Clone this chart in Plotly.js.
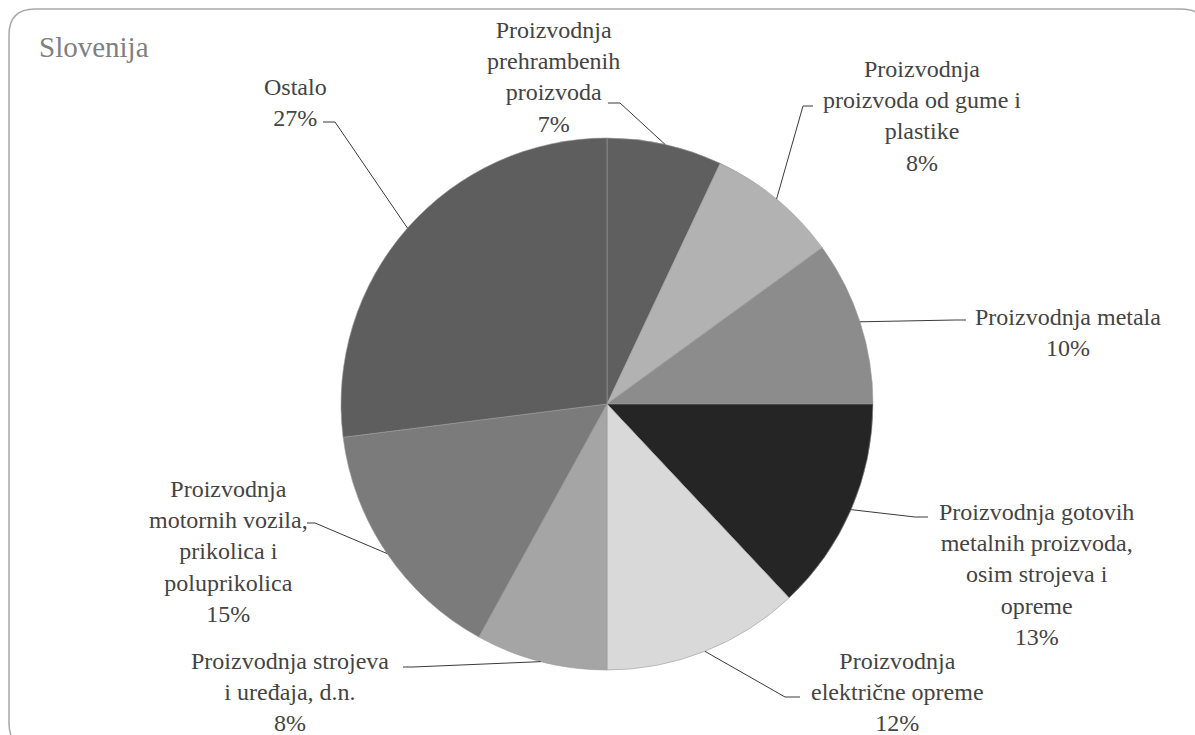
<!DOCTYPE html>
<html>
<head>
<meta charset="utf-8">
<script src="https://cdn.plot.ly/plotly-3.0.1.min.js"></script>
</head>
<body style="margin:0; background:#ffffff; overflow:hidden">
<div id="chart"></div>
<script>
// ---- data ----
const categories = [
  "Proizvodnja prehrambenih proizvoda",
  "Proizvodnja proizvoda od gume i plastike",
  "Proizvodnja metala",
  "Proizvodnja gotovih metalnih proizvoda, osim strojeva i opreme",
  "Proizvodnja električne opreme",
  "Proizvodnja strojeva i uređaja, d.n.",
  "Proizvodnja motornih vozila, prikolica i poluprikolica",
  "Ostalo"
];
const values = [7, 8, 10, 13, 12, 8, 15, 27];
const labelLines = [
  "Proizvodnja<br>prehrambenih<br>proizvoda",
  "Proizvodnja<br>proizvoda od gume i<br>plastike",
  "Proizvodnja metala",
  "Proizvodnja gotovih<br>metalnih proizvoda,<br>osim strojeva i<br>opreme",
  "Proizvodnja<br>električne opreme",
  "Proizvodnja strojeva<br>i uređaja, d.n.",
  "Proizvodnja<br>motornih vozila,<br>prikolica i<br>poluprikolica",
  "Ostalo"
];
const titleText = "Slovenija";

// ---- layout / style ----
const W = 1195, H = 735;
const CX = 607, CY = 404, R = 266;
const FONT = "Times New Roman";
const colors = ["#5f5f5f", "#b2b2b2", "#8c8c8c", "#252525", "#d9d9d9", "#a5a5a5", "#7b7b7b", "#5e5e5e"];
const labelCenters = [[553, 77], [922, 116], [1068, 332], [1036, 574], [897, 692], [290, 692], [228, 551], [295, 102]];
const leaderEnds = [[608, 103], [813, 106], [966, 320], [928, 517], [800, 697], [403, 667], [307, 523], [323, 122]];
const leaderElbows = [[620, 103], [803, 106], [955, 320], [915, 517], [785, 697], [413, 667], [315, 523], [335, 122]];
const frameBox = [9, 9, 1207, 749], frameRadius = 26;

const px = x => x / W;
const py = y => 1 - y / H;
const P = (x, y) => `${px(x)} ${py(y)}`;

const shapes = [];
// rounded frame
{
  const [x0, y0, x1, y1] = frameBox, r = frameRadius;
  shapes.push({
    type: "path", xref: "paper", yref: "paper", layer: "below",
    path: `M ${P(x0 + r, y0)} L ${P(x1 - r, y0)} Q ${P(x1, y0)} ${P(x1, y0 + r)} L ${P(x1, y1 - r)} ` +
          `Q ${P(x1, y1)} ${P(x1 - r, y1)} L ${P(x0 + r, y1)} Q ${P(x0, y1)} ${P(x0, y1 - r)} ` +
          `L ${P(x0, y0 + r)} Q ${P(x0, y0)} ${P(x0 + r, y0)} Z`,
    line: { color: "#a8a8a8", width: 1.5 }
  });
}

const total = values.reduce((a, b) => a + b, 0);
let cum = 0;
const annotations = [];
values.forEach((v, i) => {
  const a = (cum + v / 2) / total * 2 * Math.PI;
  cum += v;
  const sx = CX + R * Math.sin(a), sy = CY - R * Math.cos(a);
  const [ex, ey] = leaderEnds[i];
  const [bx, by] = leaderElbows[i];
  shapes.push({
    type: "path", xref: "paper", yref: "paper",
    path: `M ${P(ex, ey)} L ${P(bx, by)} L ${P(sx, sy)}`,
    line: { color: "#3a3a3a", width: 1 }
  });
  annotations.push({
    xref: "paper", yref: "paper",
    x: px(labelCenters[i][0]), y: py(labelCenters[i][1]),
    xanchor: "center", yanchor: "middle", align: "center",
    showarrow: false,
    text: labelLines[i] + "<br>" + v + "%",
    font: { family: FONT, size: 24 }
  });
});
annotations.push({
  xref: "paper", yref: "paper",
  x: px(37), y: py(47), xanchor: "left", yanchor: "middle",
  showarrow: false, text: titleText,
  font: { family: FONT, size: 29, color: "#808080" }
});

const trace = {
  type: "pie",
  labels: categories,
  values: values,
  sort: false,
  direction: "clockwise",
  rotation: 0,
  textinfo: "none",
  hoverinfo: "skip",
  showlegend: false,
  marker: { colors: colors, line: { color: "#9a9a9a", width: 0.6 } },
  domain: { x: [px(CX - R), px(CX + R)], y: [py(CY + R), py(CY - R)] }
};

const layout = {
  width: W, height: H,
  margin: { l: 0, r: 0, t: 0, b: 0 },
  paper_bgcolor: "#ffffff",
  showlegend: false,
  xaxis: { visible: false }, yaxis: { visible: false },
  shapes: shapes,
  annotations: annotations
};

Plotly.newPlot("chart", [trace], layout, { displayModeBar: false });
</script>
</body>
</html>
